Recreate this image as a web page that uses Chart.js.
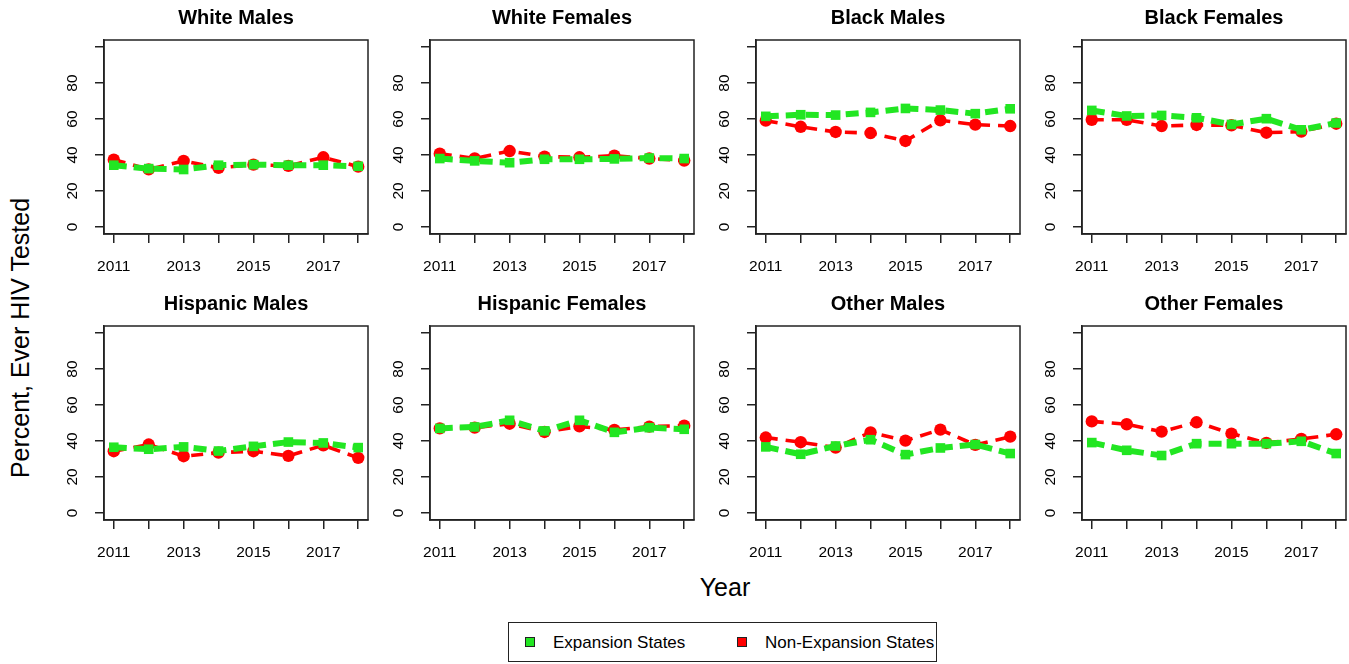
<!DOCTYPE html>
<html>
<head>
<meta charset="utf-8">
<script src="https://cdn.jsdelivr.net/npm/chart.js@4.4.1/dist/chart.umd.min.js"></script>
<style>
  html, body { margin: 0; padding: 0; background: #ffffff; }
  body { width: 1349px; height: 664px; position: relative; overflow: hidden;
         font-family: "Liberation Sans", Arial, Helvetica, sans-serif; color: #000; }
  canvas.panel { position: absolute; }
  .axis-title { position: absolute; font-size: 25px; white-space: nowrap; }
  #ylab { left: 20px; top: 338px; transform: translate(-50%, -50%) rotate(-90deg); }
  #xlab { left: 725px; top: 587px; transform: translate(-50%, -50%); }
  #legend { position: absolute; left: 508px; top: 622px; width: 429px; height: 40px;
            border: 1px solid #222; box-sizing: border-box; font-size: 17px; }
  #legend .item { position: absolute; top: 0; height: 40px; line-height: 40px; }
  #legend .sw { position: absolute; top: 14px; width: 10px; height: 10px;
                border: 1px solid #222; box-sizing: border-box; }
</style>
</head>
<body>
<div id="ylab" class="axis-title">Percent, Ever HIV Tested</div>
<div id="xlab" class="axis-title">Year</div>
<div id="legend">
  <div class="sw" id="swExp" style="left:16px;"></div>
  <div class="item" id="lblExp" style="left:44px;">Expansion States</div>
  <div class="sw" id="swNon" style="left:228px;"></div>
  <div class="item" id="lblNon" style="left:256px;">Non-Expansion States</div>
</div>
<script>
// Survey years and axis ticks
const years = [2011, 2012, 2013, 2014, 2015, 2016, 2017, 2018];
const yTicks = [0, 20, 40, 60, 80, 100];
const seriesNames = ["Expansion States", "Non-Expansion States"];

// Percent ever tested for HIV, by group (expansion vs non-expansion states)
const whiteMalesExp       = [34.3, 32.4, 31.9, 34.3, 34.6, 34.3, 34.3, 33.7];
const whiteMalesNon       = [37.4, 32.0, 36.7, 32.8, 34.6, 33.9, 38.7, 33.5];
const whiteFemalesExp     = [38.0, 36.7, 35.7, 37.6, 37.6, 37.8, 38.3, 38.0];
const whiteFemalesNon     = [40.7, 38.1, 42.2, 39.1, 38.7, 39.6, 38.0, 36.9];
const blackMalesExp       = [61.5, 62.4, 62.2, 63.7, 65.9, 65.0, 63.0, 65.7];
const blackMalesNon       = [59.1, 55.7, 52.8, 52.2, 47.8, 59.3, 56.9, 56.1];
const blackFemalesExp     = [64.8, 61.7, 62.0, 60.7, 57.0, 60.2, 54.0, 57.8];
const blackFemalesNon     = [59.6, 59.6, 56.1, 56.7, 56.5, 52.4, 53.0, 57.4];
const hispanicMalesExp    = [36.5, 35.4, 36.7, 34.4, 37.0, 39.4, 38.9, 36.3];
const hispanicMalesNon    = [34.3, 38.0, 31.5, 33.5, 34.3, 31.7, 37.6, 30.6];
const hispanicFemalesExp  = [47.0, 47.8, 51.5, 45.6, 51.5, 44.8, 47.4, 46.5];
const hispanicFemalesNon  = [47.0, 47.4, 49.6, 45.0, 48.1, 46.1, 48.0, 48.5];
const otherMalesExp       = [36.7, 32.6, 37.2, 40.7, 32.4, 36.1, 38.0, 33.0];
const otherMalesNon       = [41.9, 39.3, 36.3, 44.8, 40.2, 46.3, 37.8, 42.4];
const otherFemalesExp     = [39.1, 34.8, 31.9, 38.5, 38.5, 38.5, 39.8, 33.0];
const otherFemalesNon     = [50.9, 49.3, 45.2, 50.4, 44.1, 38.9, 41.1, 43.7];

const panelTitles = ["White Males", "White Females", "Black Males", "Black Females",
                     "Hispanic Males", "Hispanic Females", "Other Males", "Other Females"];
const expSeries = [whiteMalesExp, whiteFemalesExp, blackMalesExp, blackFemalesExp,
                   hispanicMalesExp, hispanicFemalesExp, otherMalesExp, otherFemalesExp];
const nonSeries = [whiteMalesNon, whiteFemalesNon, blackMalesNon, blackFemalesNon,
                   hispanicMalesNon, hispanicFemalesNon, otherMalesNon, otherFemalesNon];

// Styling and layout
const GREEN = "#22e622";
const RED = "#ff0000";
const INK = "#222222";
const FONT = "'Liberation Sans', Arial, Helvetica, sans-serif";
const AXIS_W = 45;       // space left of each plot box for the y axis
const TOP_H = 40;        // space above each plot box for the panel title
const BOTTOM_H = 50;     // space below each plot box for the x axis
const BOX_W = 264, BOX_H = 194;
const COL_X = [104, 430, 756, 1082];
const ROW_Y = [40, 326];

document.getElementById("swExp").style.background = GREEN;
document.getElementById("swNon").style.background = RED;

// Frame drawn around the plotting region on all four sides
const plotFrame = {
  id: "plotFrame",
  beforeDatasetsDraw(chart) {
    const a = chart.chartArea, ctx = chart.ctx;
    ctx.save();
    ctx.strokeStyle = INK;
    ctx.lineWidth = 1.5;
    ctx.strokeRect(a.left, a.top, a.right - a.left, a.bottom - a.top);
    ctx.restore();
  }
};

function toPoints(vals) {
  return years.map((yr, i) => ({ x: yr, y: vals[i] }));
}

panelTitles.forEach((title, idx) => {
  const col = idx % 4, row = Math.floor(idx / 4);
  const cv = document.createElement("canvas");
  cv.className = "panel";
  cv.width = AXIS_W + BOX_W + AXIS_W;
  cv.height = TOP_H + BOX_H + BOTTOM_H;
  cv.style.left = (COL_X[col] - AXIS_W) + "px";
  cv.style.top = (ROW_Y[row] - TOP_H) + "px";
  document.body.appendChild(cv);

  new Chart(cv, {
    type: "line",
    data: {
      datasets: [
        {
          label: seriesNames[0],
          data: toPoints(expSeries[idx]),
          borderColor: GREEN,
          backgroundColor: GREEN,
          borderWidth: 6,
          borderDash: [13, 7],
          borderCapStyle: "butt",
          pointStyle: "rect",
          pointRadius: 6.8,
          pointBorderWidth: 0,
          tension: 0
        },
        {
          label: seriesNames[1],
          data: toPoints(nonSeries[idx]),
          borderColor: RED,
          backgroundColor: RED,
          borderWidth: 3.6,
          borderDash: [12, 8],
          borderCapStyle: "butt",
          pointStyle: "circle",
          pointRadius: 6.2,
          pointBorderWidth: 0,
          tension: 0
        }
      ]
    },
    options: {
      responsive: false,
      animation: false,
      devicePixelRatio: 1,
      layout: { padding: { left: 0, right: AXIS_W, top: 0, bottom: 0 } },
      plugins: {
        legend: { display: false },
        tooltip: { enabled: false },
        title: {
          display: true,
          text: title,
          fullSize: false,
          color: "#000",
          font: { family: FONT, size: 20, weight: "bold" },
          padding: { top: 6, bottom: 10 }
        }
      },
      scales: {
        x: {
          type: "linear",
          min: 2010.72,
          max: 2018.28,
          afterBuildTicks: s => { s.ticks = years.map(v => ({ value: v })); },
          afterFit: s => { s.height = BOTTOM_H; },
          grid: { drawOnChartArea: false, drawTicks: true, tickLength: 9, color: INK, lineWidth: 1.5 },
          border: { display: true, color: INK, width: 1.5 },
          ticks: {
            autoSkip: false,
            maxRotation: 0,
            minRotation: 0,
            padding: 14,
            color: "#000",
            font: { family: FONT, size: 15.5 },
            callback: v => (v % 2 === 1 ? String(v) : "")
          }
        },
        y: {
          type: "linear",
          min: -4,
          max: 104,
          afterBuildTicks: s => { s.ticks = yTicks.map(v => ({ value: v })); },
          afterFit: s => { s.width = AXIS_W; },
          grid: { drawOnChartArea: false, drawTicks: true, tickLength: 9, color: INK, lineWidth: 1.5 },
          border: { display: true, color: INK, width: 1.5 },
          ticks: {
            autoSkip: false,
            minRotation: 90,
            maxRotation: 90,
            crossAlign: "center",
            padding: 14,
            color: "#000",
            font: { family: FONT, size: 15.5 },
            callback: v => (v === 100 ? "" : String(v))
          }
        }
      }
    },
    plugins: [plotFrame]
  });
});
</script>
</body>
</html>
